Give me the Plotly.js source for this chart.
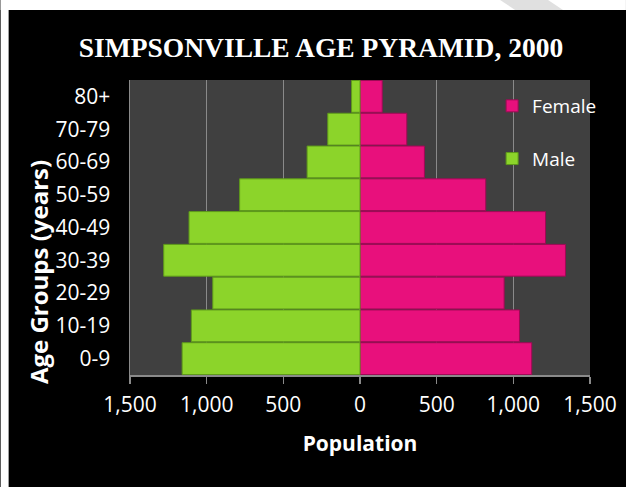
<!DOCTYPE html>
<html>
<head>
<meta charset="utf-8">
<script src="https://cdn.plot.ly/plotly-3.0.1.min.js"></script>
<style>html,body{margin:0;padding:0;background:#fff;}#chart{width:626px;height:487px;}</style>
</head>
<body>
<div id="chart"></div>
<script>
// ---- data ----
var ageGroups = ['0-9','10-19','20-29','30-39','40-49','50-59','60-69','70-79','80+'];
var malePop   = [1160, 1100, 960, 1280, 1115, 785, 345, 210, 55];
var femalePop = [1120, 1040, 940, 1340, 1210, 820, 420, 305, 145];
var tickValues = [-1500, -1000, -500, 0, 500, 1000, 1500];
var tickLabels = ['1,500', '1,000', '500', '0', '500', '1,000', '1,500'];

// ---- geometry helpers (pixel -> paper) ----
var L = 129.5, R = 590, T = 80, B = 375, W = 626, H = 487;
function px(x){ return (x - L) / (R - L); }
function py(y){ return (B - y) / (B - T); }

var female = {
  type: 'bar', orientation: 'h', name: 'Female',
  y: ageGroups, x: femalePop,
  legendgroup: 'f',
  marker: {color: '#E8107C', line: {color: '#9E0A55', width: 1}},
  hoverinfo: 'none'
};
var male = {
  type: 'bar', orientation: 'h', name: 'Male',
  y: ageGroups, x: malePop.map(function(v){ return -v; }),
  legendgroup: 'm',
  marker: {color: '#8CD42A', line: {color: '#5E9A1A', width: 1}},
  hoverinfo: 'none'
};

var gray = '#8a8a8a';
var layout = {
  width: W, height: H,
  margin: {l: L, r: W - R, t: T, b: H - B, pad: 0},
  paper_bgcolor: '#000000',
  plot_bgcolor: '#404040',
  barmode: 'relative',
  bargap: 0.03,
  showlegend: true,
  legend: {
    x: px(492), y: py(87), xanchor: 'left', yanchor: 'top',
    bgcolor: 'rgba(0,0,0,0)',
    font: {family: 'Open Sans, sans-serif', size: 19, color: '#ffffff'},
    tracegroupgap: 25, itemwidth: 30
  },
  title: {
    text: 'SIMPSONVILLE AGE PYRAMID, 2000',
    x: 321 / W, xref: 'container', xanchor: 'center',
    y: 1 - 47 / H, yref: 'container', yanchor: 'middle',
    font: {family: 'Liberation Serif, serif', size: 27.5, color: '#ffffff', weight: 'bold'}
  },
  xaxis: {
    range: [-1500, 1500],
    tickvals: tickValues, ticktext: tickLabels,
    showgrid: true, gridcolor: gray, gridwidth: 1.5,
    zeroline: true, zerolinecolor: gray, zerolinewidth: 1.5,
    showline: true, linecolor: gray, linewidth: 1.5,
    ticks: 'outside', ticklen: 7, tickcolor: gray, tickwidth: 1.5,
    ticklabelstandoff: 3,
    tickfont: {family: 'Open Sans, sans-serif', size: 21, color: '#ffffff'},
    title: {text: '<b>Population</b>', standoff: 19,
            font: {family: 'Open Sans, sans-serif', size: 21, color: '#ffffff'}},
    fixedrange: true
  },
  yaxis: {
    type: 'category', categoryorder: 'array', categoryarray: ageGroups,
    showgrid: false, zeroline: false,
    showline: true, linecolor: gray, linewidth: 1.5,
    ticks: '', ticklabelstandoff: 14,
    tickfont: {family: 'Open Sans, sans-serif', size: 21, color: '#ffffff'},
    fixedrange: true
  },
  annotations: [{
    text: '<b>Age Groups (years)</b>', textangle: -90,
    xref: 'paper', yref: 'paper', x: px(37.5), y: py(272),
    xanchor: 'center', yanchor: 'middle', showarrow: false,
    font: {family: 'Open Sans, sans-serif', size: 24, color: '#ffffff'}
  }],
  shapes: [
    {type: 'rect', xref: 'paper', yref: 'paper', layer: 'above',
     x0: px(0), x1: px(W), y0: py(10), y1: py(0),
     fillcolor: '#ffffff', line: {width: 0}},
    {type: 'rect', xref: 'paper', yref: 'paper', layer: 'above',
     x0: px(0), x1: px(8), y0: py(H), y1: py(0),
     fillcolor: '#ffffff', line: {width: 0}},
    {type: 'path', xref: 'paper', yref: 'paper', layer: 'above',
     path: 'M ' + px(500) + ' ' + py(0) + ' L ' + px(548) + ' ' + py(0) +
           ' L ' + px(563) + ' ' + py(10) + ' L ' + px(515) + ' ' + py(10) + ' Z',
     fillcolor: '#e0e0e0', line: {width: 0}}
  ]
};

Plotly.newPlot('chart', [female, male], layout, {displayModeBar: false, staticPlot: true});
</script>
</body>
</html>
